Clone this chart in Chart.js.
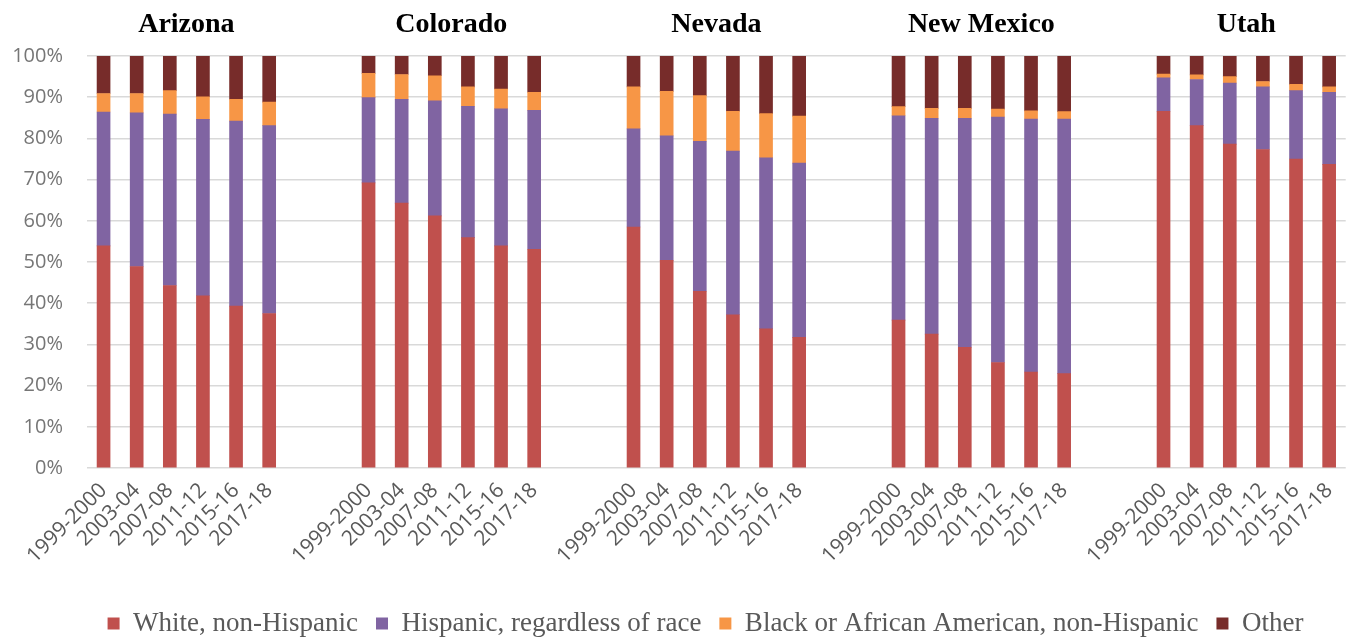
<!DOCTYPE html>
<html lang="en">
<head>
  <meta charset="UTF-8" />
  <title>Enrollment by race/ethnicity, Mountain West states</title>
  <script src="https://cdn.jsdelivr.net/npm/chart.js"></script>
  <style>
    body {
      margin: 0;
      background: #ffffff;
    }
    .wrap {
      width: 1349px;
      height: 639px;
      position: relative;
    }
  </style>
</head>
<body>
  <div class="wrap">
    <canvas id="chart"></canvas>
  </div>

  <script>
    const states = ["Arizona", "Colorado", "Nevada", "New Mexico", "Utah"];
    const years = ["1999-2000", "2003-04", "2007-08", "2011-12", "2015-16", "2017-18"];

    // share of students, per state, one value per school year
    const white = {
      "Arizona":    [53.9, 48.9, 44.3, 41.8, 39.3, 37.5],
      "Colorado":   [69.2, 64.3, 61.2, 55.9, 53.9, 53.1],
      "Nevada":     [58.5, 50.4, 42.9, 37.2, 33.8, 31.7],
      "New Mexico": [35.9, 32.5, 29.3, 25.6, 23.3, 22.9],
      "Utah":       [86.6, 83.1, 78.6, 77.3, 75.0, 73.7]
    };
    const hispanic = {
      "Arizona":    [32.5, 37.3, 41.6, 42.8, 44.9, 45.6],
      "Colorado":   [20.7, 25.2, 27.9, 31.9, 33.3, 33.7],
      "Nevada":     [23.8, 30.2, 36.4, 39.7, 41.5, 42.3],
      "New Mexico": [49.6, 52.4, 55.6, 59.6, 61.4, 61.8],
      "Utah":       [8.1, 11.2, 14.8, 15.2, 16.6, 17.5]
    };
    const black = {
      "Arizona":    [4.5, 4.7, 5.7, 5.5, 5.3, 5.7],
      "Colorado":   [5.9, 6.0, 6.1, 4.7, 4.8, 4.4],
      "Nevada":     [10.2, 10.8, 11.1, 9.7, 10.7, 11.4],
      "New Mexico": [2.2, 2.4, 2.4, 1.9, 2.0, 1.8],
      "Utah":       [0.9, 1.1, 1.6, 1.3, 1.5, 1.3]
    };
    const other = {
      "Arizona":    [9.1, 9.1, 8.4, 9.9, 10.5, 11.2],
      "Colorado":   [4.2, 4.5, 4.8, 7.5, 8.0, 8.8],
      "Nevada":     [7.5, 8.6, 9.6, 13.4, 14.0, 14.6],
      "New Mexico": [12.3, 12.7, 12.7, 12.9, 13.3, 13.5],
      "Utah":       [4.4, 4.6, 5.0, 6.2, 6.9, 7.5]
    };

    const yTicks = [0, 10, 20, 30, 40, 50, 60, 70, 80, 90, 100];
    const GAP = 2; // empty slots between states

    // flatten into one category axis with blank slots between states
    const labels = [];
    const groupRange = [];
    states.forEach((st, i) => {
      const start = labels.length;
      years.forEach(y => labels.push(y));
      groupRange.push([start, labels.length - 1]);
      if (i < states.length - 1) for (let g = 0; g < GAP; g++) labels.push("");
    });

    function flatten(series) {
      const out = [];
      states.forEach((st, i) => {
        series[st].forEach(v => out.push(v));
        if (i < states.length - 1) for (let g = 0; g < GAP; g++) out.push(null);
      });
      return out;
    }

    const stateTitles = {
      id: "stateTitles",
      afterDraw(chart) {
        const ctx = chart.ctx;
        const x = chart.scales.x;
        ctx.save();
        ctx.font = 'bold 28px "Liberation Serif"';
        ctx.fillStyle = "#000000";
        ctx.textAlign = "center";
        ctx.textBaseline = "middle";
        states.forEach((st, i) => {
          const [a, b] = groupRange[i];
          const cx = (x.getPixelForValue(a) + x.getPixelForValue(b)) / 2;
          ctx.fillText(st, cx, 25);
        });
        ctx.restore();
      }
    };

    // nudge the legend a bit right and down, like the original
    const legendShift = {
      id: "legendShift",
      afterLayout(chart) {
        const lg = chart.legend;
        lg.left += 32; lg.right += 32;
        lg.top += 8; lg.bottom += 8;
      }
    };

    const ds = (label, series, color) => ({
      label, data: flatten(series), backgroundColor: color, barThickness: 13
    });

    new Chart(document.getElementById("chart"), {
      type: "bar",
      data: {
        labels,
        datasets: [
          ds("White, non-Hispanic", white, "#C0504D"),
          ds("Hispanic, regardless of race", hispanic, "#8064A2"),
          ds("Black or African American, non-Hispanic", black, "#F79646"),
          ds("Other", other, "#772C2A")
        ]
      },
      options: {
        responsive: true,
        maintainAspectRatio: false,
        animation: false,
        layout: { padding: { top: 56, right: 2, left: 0, bottom: 0 } },
        plugins: {
          tooltip: { enabled: false },
          legend: {
            position: "bottom",
            labels: {
              boxWidth: 12,
              boxHeight: 12,
              padding: 18,
              color: "#595959",
              font: { family: '"Liberation Serif"', size: 27 }
            }
          }
        },
        scales: {
          x: {
            stacked: true,
            grid: { display: false },
            border: { display: false },
            ticks: {
              autoSkip: false,
              maxRotation: 45,
              minRotation: 45,
              padding: 2,
              color: "#595959",
              font: { family: '"Open Sans"', size: 21 }
            },
            afterFit(s) { s.height = 116; }
          },
          y: {
            stacked: true,
            min: 0,
            max: 100,
            afterBuildTicks(s) { s.ticks = yTicks.map(v => ({ value: v })); },
            grid: { color: "#d9d9d9", drawTicks: false, lineWidth: 1.5 },
            border: { display: false },
            ticks: {
              padding: 24,
              color: "#767676",
              font: { family: '"Open Sans"', size: 20 },
              callback: v => v + "%"
            },
            afterFit(s) { s.width = 87; }
          }
        }
      },
      plugins: [stateTitles, legendShift]
    });
  </script>
</body>
</html>
